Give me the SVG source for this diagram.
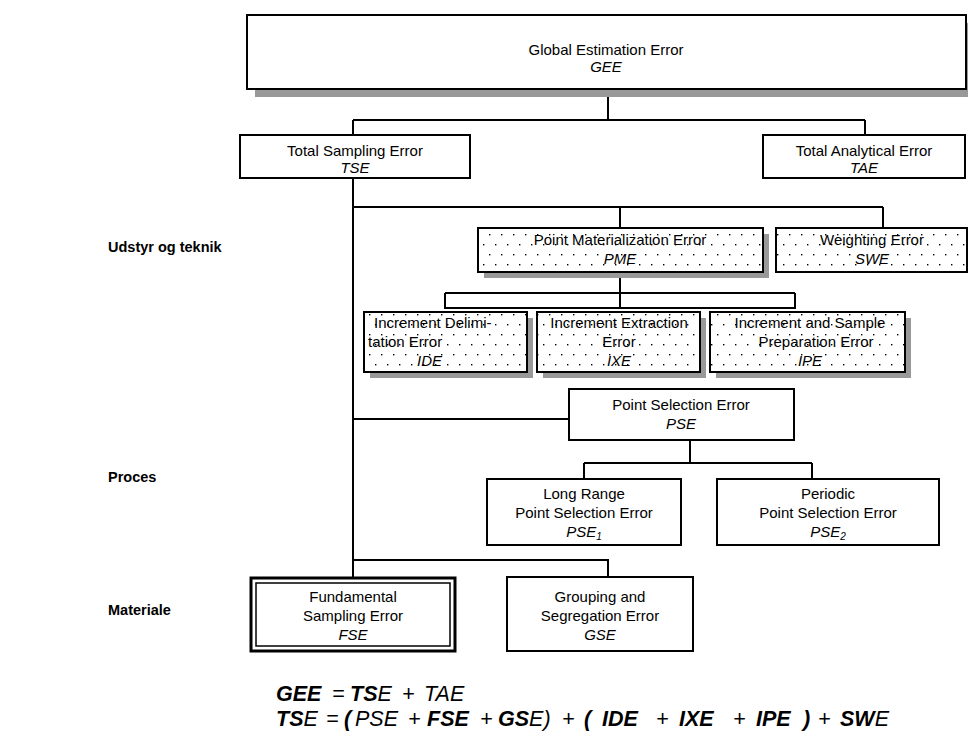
<svg xmlns="http://www.w3.org/2000/svg" width="968" height="745" viewBox="0 0 968 745">
<style>
.box{fill:#fff;stroke:#000;stroke-width:2}
.dbox{fill:url(#dots);stroke:#000;stroke-width:2}
.sh{fill:#999;stroke:none}
.t{font-family:"Liberation Sans",Arial,sans-serif;font-size:15px;fill:#000;text-anchor:middle}
.s{text-anchor:start}
.i{font-style:italic}
.lbl{font-family:"Liberation Sans",Arial,sans-serif;font-size:14.5px;font-weight:bold;fill:#000}
.eq{font-family:"Liberation Sans",Arial,sans-serif;font-size:21.5px;font-style:italic;fill:#000}
.b{font-weight:bold}
.c{fill:none;stroke:#000;stroke-width:2}
</style>
<defs>
<pattern id="dots" width="12" height="20" patternUnits="userSpaceOnUse">
<rect width="12" height="20" fill="#fff"/>
<rect x="3" y="4" width="1.4" height="1.4" fill="#000"/>
<rect x="9" y="14" width="1.4" height="1.4" fill="#000"/>
</pattern>
</defs>

<g id="connectors">
<path class="c" d="M608,89 V120 M353,120 H865 M353,120 V135 M865,120 V135"/>
<path class="c" d="M353,178 V577 M353,207 H883 M620,207 V228 M883,207 V228"/>
<path class="c" d="M620,272 V308 M445,293 H795 M445,293 V308 H795 V293"/>
<path class="c" d="M353,419 H569"/>
<path class="c" d="M690,440 V463 M584,463 H812 M584,463 V479 M812,463 V479"/>
<path class="c" d="M353,560 H608 V577"/>
</g>

<g id="gee">
<rect class="sh" x="255" y="23" width="719" height="74"/>
<rect class="box" x="247" y="15" width="719" height="74"/>
<text class="t" x="606" y="55">Global Estimation Error</text>
<text class="t i" x="606" y="72">GEE</text>
</g>

<g id="tse">
<rect class="box" x="240" y="135" width="230" height="43"/>
<text class="t" x="355" y="156">Total Sampling Error</text>
<text class="t i" x="355" y="173">TSE</text>
</g>

<g id="tae">
<rect class="box" x="763" y="135" width="202" height="43"/>
<text class="t" x="864" y="156">Total Analytical Error</text>
<text class="t i" x="864" y="173">TAE</text>
</g>

<g id="pme">
<rect class="sh" x="484" y="234" width="285" height="44"/>
<rect class="dbox" x="478" y="228" width="285" height="44"/>
<text class="t" x="620" y="245">Point Materialization Error</text>
<text class="t i" x="620" y="264">PME</text>
</g>

<g id="swe">
<rect class="dbox" x="776" y="228" width="191" height="44"/>
<text class="t" x="872" y="245">Weighting Error</text>
<text class="t i" x="872" y="264">SWE</text>
</g>

<g id="ide">
<rect class="sh" x="370" y="318" width="163" height="60"/>
<rect class="dbox" x="364" y="312" width="163" height="60"/>
<text class="t s" x="374" y="328">Increment Delimi-</text>
<text class="t s" x="368" y="347">tation Error</text>
<text class="t i s" x="417" y="366">IDE</text>
</g>

<g id="ixe">
<rect class="sh" x="543" y="318" width="163" height="60"/>
<rect class="dbox" x="537" y="312" width="163" height="60"/>
<text class="t" x="619" y="328">Increment Extraction</text>
<text class="t" x="619" y="347">Error</text>
<text class="t i" x="619" y="366">IXE</text>
</g>

<g id="ipe">
<rect class="sh" x="716" y="318" width="195" height="60"/>
<rect class="dbox" x="710" y="312" width="195" height="60"/>
<text class="t" x="810" y="328">Increment and Sample</text>
<text class="t" x="816" y="347">Preparation Error</text>
<text class="t i" x="810" y="366">IPE</text>
</g>

<g id="pse">
<rect class="box" x="569" y="389" width="225" height="51"/>
<text class="t" x="681" y="410">Point Selection Error</text>
<text class="t i" x="681" y="429">PSE</text>
</g>

<g id="pse1">
<rect class="box" x="487" y="479" width="194" height="66"/>
<text class="t" x="584" y="499">Long Range</text>
<text class="t" x="584" y="518">Point Selection Error</text>
<text class="t i" x="584" y="537">PSE<tspan font-size="10" dy="3">1</tspan></text>
</g>

<g id="pse2">
<rect class="box" x="717" y="479" width="222" height="66"/>
<text class="t" x="828" y="499">Periodic</text>
<text class="t" x="828" y="518">Point Selection Error</text>
<text class="t i" x="828" y="537">PSE<tspan font-size="10" dy="3">2</tspan></text>
</g>

<g id="fse">
<rect fill="#fff" stroke="#000" stroke-width="3" x="251" y="578" width="204" height="73"/>
<rect fill="none" stroke="#000" stroke-width="1.5" x="256" y="583" width="194" height="63"/>
<text class="t" x="353" y="602">Fundamental</text>
<text class="t" x="353" y="621">Sampling Error</text>
<text class="t i" x="353" y="640">FSE</text>
</g>

<g id="gse">
<rect class="box" x="507" y="577" width="186" height="74"/>
<text class="t" x="600" y="602">Grouping and</text>
<text class="t" x="600" y="621">Segregation Error</text>
<text class="t i" x="600" y="640">GSE</text>
</g>

<g id="labels">
<text class="lbl" x="108" y="252">Udstyr og teknik</text>
<text class="lbl" x="108" y="482">Proces</text>
<text class="lbl" x="108" y="615">Materiale</text>
</g>

<g id="equations">
<text class="eq" y="701"><tspan x="276" class="b">GEE</tspan><tspan x="332">=</tspan><tspan x="350" class="b">TS</tspan><tspan>E</tspan><tspan x="402">+</tspan><tspan x="424">TAE</tspan></text>
<text class="eq" y="726"><tspan x="276" class="b">TS</tspan><tspan>E</tspan><tspan x="326">=</tspan><tspan x="344" class="b">(</tspan><tspan x="355">PSE</tspan><tspan x="408">+</tspan><tspan x="427" class="b">FSE</tspan><tspan x="480">+</tspan><tspan x="498" class="b">GS</tspan><tspan>E)</tspan><tspan x="562">+</tspan><tspan x="584" class="b">(</tspan><tspan x="602" class="b">IDE</tspan><tspan x="656">+</tspan><tspan x="679" class="b">IXE</tspan><tspan x="733">+</tspan><tspan x="756" class="b">IPE</tspan><tspan x="803" class="b">)</tspan><tspan x="818">+</tspan><tspan x="840" class="b">SW</tspan><tspan>E</tspan></text>
</g>
</svg>
